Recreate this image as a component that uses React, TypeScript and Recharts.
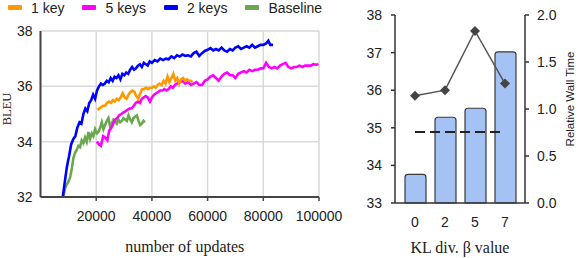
import {
  LineChart,
  Line,
  XAxis,
  YAxis,
  CartesianGrid,
  ComposedChart,
  Bar,
} from 'recharts';

// left panel: BLEU vs number of updates
const baselineSteps = [
  8200, 8800, 9400, 10000, 10600, 11200, 11800, 12400, 13000, 13600, 14200, 14800, 15400, 16000,
  16600, 17200, 17800, 18400, 19000, 19600, 20200, 20800, 21400, 22000, 22600, 23200, 23800, 24400,
  25000, 25600, 26200, 26800, 27400, 28000, 28600, 29200, 29800, 30400, 31000, 31600, 32200, 32800,
  33400, 34000, 34600, 35200, 35800, 36400, 37000, 37500,
];
const baselineBleu = [
  32.0, 32.3, 32.45, 32.55, 32.7, 33.0, 33.4, 33.6, 33.7, 33.85, 33.8, 34.05, 33.95, 34.15,
  34.0, 34.35, 34.1, 34.3, 34.2, 34.45, 34.3, 34.35, 34.5, 34.7, 34.45, 34.6, 34.75, 34.85,
  34.55, 34.65, 34.8, 34.75, 34.65, 34.8, 34.7, 34.75, 34.85, 34.8, 34.75, 34.95, 34.8, 34.7,
  34.85, 34.9, 34.95, 34.75, 34.6, 34.65, 34.75, 34.7,
];

const fiveKeySteps = [
  20200, 21000, 21700, 22500, 23200, 24000, 24700, 25400, 26100, 26800, 27500, 28200, 29000, 29700,
  30500, 31200, 32000, 32700, 33500, 34200, 35000, 35700, 36400, 37100, 37800, 38500, 39300, 40000,
  40800, 41500, 42300, 43000, 43800, 44500, 45300, 46000, 46800, 47500, 48300, 49000, 50000, 51000,
  52000, 53000, 54000, 55000, 56000, 57000, 58000, 59000, 60000, 61000, 62000, 63000, 64000, 65000,
  66000, 67000, 68000, 69000, 70000, 71000, 72000, 73000, 74000, 75000, 76000, 77000, 78000, 79000,
  80000, 81000, 82000, 83000, 84000, 85000, 86000, 87000, 88000, 89000, 90000, 91000, 92000, 93000,
  94000, 95000, 96000, 97000, 98000, 99000, 99800,
];
const fiveKeyBleu = [
  34.0, 33.9, 33.85, 34.2, 34.15, 34.05, 34.4, 34.5, 34.65, 34.8, 34.85, 34.95, 35.0, 35.05,
  35.1, 35.15, 35.2, 35.2, 35.3, 35.4, 35.45, 35.4, 35.55, 35.6, 35.65, 35.6, 35.45, 35.6,
  35.7, 35.75, 35.8, 35.85, 35.85, 35.9, 35.85, 35.9, 36.0, 35.95, 36.05, 36.1, 36.15, 36.2,
  36.1, 36.15, 36.05, 36.1, 36.15, 36.05, 36.05, 36.2, 36.25, 36.35, 36.4, 36.3, 36.2, 36.35,
  36.45, 36.5, 36.4, 36.4, 36.3, 36.45, 36.5, 36.55, 36.5, 36.6, 36.55, 36.6, 36.6, 36.65,
  36.65, 36.85, 36.7, 36.65, 36.7, 36.65, 36.75, 36.8, 36.85, 36.7, 36.65, 36.7, 36.7, 36.75,
  36.7, 36.75, 36.75, 36.75, 36.8, 36.78, 36.8,
];

const oneKeySteps = [
  20400, 21100, 21800, 22500, 23200, 23900, 24600, 25300, 26000, 26700, 27400, 28100, 28800, 29500,
  30200, 30900, 31600, 32300, 33000, 33700, 34400, 35100, 35800, 36500, 37200, 37900, 38600, 39300,
  40000, 40700, 41400, 42100, 42800, 43500, 44200, 44900, 45600, 46300, 47000, 47700, 48400, 49100,
  49800, 50500, 51200, 51900, 52600, 53300, 54000, 54600,
];
const oneKeyBleu = [
  35.15, 35.2, 35.25, 35.3, 35.3, 35.4, 35.45, 35.4, 35.5, 35.45, 35.55, 35.5, 35.6, 35.75,
  35.6, 35.55, 35.7, 35.8, 35.85, 35.8, 35.65, 35.55, 35.75, 35.9, 35.9, 35.95, 35.9, 35.95,
  35.95, 36.0, 35.95, 36.05, 36.1, 36.05, 36.2, 36.1, 36.35, 36.15, 36.3, 36.45, 36.2, 36.3,
  36.1, 36.25, 36.3, 36.2, 36.25, 36.2, 36.2, 36.15,
];

const twoKeySteps = [
  8000, 8800, 9500, 10300, 11000, 11800, 12500, 13200, 14000, 14700, 15400, 16100, 16800, 17500,
  18200, 18900, 19600, 20300, 21000, 21700, 22400, 23100, 23800, 24500, 25200, 25900, 26600, 27300,
  28000, 28700, 29400, 30100, 30800, 31500, 32200, 32900, 33600, 34300, 35000, 35700, 36400, 37100,
  37800, 38500, 39200, 40000, 41000, 42000, 43000, 44000, 45000, 46000, 47000, 48000, 49000, 50000,
  51000, 52000, 53000, 54000, 55000, 56000, 57000, 58000, 59000, 60000, 61000, 62000, 63000, 64000,
  65000, 66000, 67000, 68000, 69000, 70000, 71000, 72000, 73000, 74000, 75000, 76000, 77000, 78000,
  79000, 80000, 81000, 81800, 82500, 83500,
];
const twoKeyBleu = [
  32.0, 32.6, 33.1, 33.5, 33.9, 34.1, 34.2, 34.5, 34.7, 34.65, 35.0, 35.2, 35.1, 35.4,
  35.5, 35.7, 35.55, 35.85, 36.0, 36.1, 36.05, 36.1, 36.2, 36.15, 36.3, 36.2, 36.35, 36.3,
  36.4, 36.25, 36.45, 36.4, 36.5, 36.45, 36.6, 36.7, 36.6, 36.65, 36.75, 36.8, 36.7, 36.85,
  36.8, 36.75, 36.9, 36.85, 36.95, 36.9, 37.0, 36.95, 37.0, 36.98, 37.08, 37.02, 37.12, 37.08,
  37.15, 37.1, 37.12, 37.08, 37.2, 37.25, 37.1, 37.2, 37.28, 37.32, 37.38, 37.3, 37.35, 37.3,
  37.4, 37.3, 37.25, 37.35, 37.3, 37.4, 37.45, 37.35, 37.4, 37.45, 37.4, 37.5, 37.4, 37.45,
  37.5, 37.5, 37.55, 37.65, 37.5, 37.5,
];

const updateTicks = [20000, 40000, 60000, 80000, 100000];
const bleuTicks = [32, 34, 36, 38];

// right panel: KL divergence beta
const betaValues = ['0', '2', '5', '7'];
const betaBleu = [33.76, 35.28, 35.52, 37.02];
const betaBaselineBleu = [34.89, 34.89, 34.89, 34.89];
const betaWallTime = [1.14, 1.2, 1.83, 1.27];
const klBleuTicks = [33, 34, 35, 36, 37, 38];
const wallTimeTicks = [0, 0.5, 1, 1.5, 2];

const SANS = '"Liberation Sans", Arial, sans-serif';
const SERIF = '"Liberation Serif", "Times New Roman", serif';

const toPoints = (steps: number[], vals: number[]) => steps.map((x, i) => ({ x, v: vals[i] }));

// legend order matches the figure, draw order is separate
const SERIES = [
  { name: '1 key', color: '#ff9900', data: toPoints(oneKeySteps, oneKeyBleu) },
  { name: '5 keys', color: '#ff00ff', data: toPoints(fiveKeySteps, fiveKeyBleu) },
  { name: '2 keys', color: '#0000ff', data: toPoints(twoKeySteps, twoKeyBleu) },
  { name: 'Baseline', color: '#6aa84f', data: toPoints(baselineSteps, baselineBleu) },
];
const DRAW_ORDER = ['Baseline', '5 keys', '1 key', '2 keys'];

const klData = betaValues.map((beta, i) => ({
  beta,
  bleu: betaBleu[i],
  baseline: betaBaselineBleu[i],
  time: betaWallTime[i],
}));

const tickStyle = { fontSize: 14, fill: '#222', fontFamily: SANS };

function Diamond(props: any) {
  const { cx, cy, index } = props;
  if (cx == null || cy == null) return null;
  const r = 5;
  return (
    <path
      key={`d-${index}`}
      d={`M${cx},${cy - r} L${cx + r},${cy} L${cx},${cy + r} L${cx - r},${cy} Z`}
      fill="#444"
    />
  );
}

function UpdatesChart() {
  return (
    <div style={{ position: 'absolute', left: 0, top: 0, width: 346, height: 258 }}>
      {/* legend */}
      <div
        style={{
          position: 'absolute',
          left: 8,
          top: 0,
          height: 15,
          display: 'flex',
          alignItems: 'center',
          gap: 18,
          fontFamily: SANS,
          fontSize: 14,
          color: '#222',
          whiteSpace: 'nowrap',
        }}
      >
        {SERIES.map((s) => (
          <div key={s.name} style={{ display: 'flex', alignItems: 'center', gap: 9 }}>
            <span
              style={{ width: 14, height: 5, background: s.color, borderRadius: 1, display: 'inline-block' }}
            />
            <span>{s.name}</span>
          </div>
        ))}
      </div>

      {/* extra right margin so the 100000 label can run past the plot */}
      <LineChart width={346} height={258} margin={{ top: 31, right: 27, bottom: 0, left: 0 }}>
        <CartesianGrid stroke="#d9d9d9" strokeWidth={1.5} />
        <XAxis
          type="number"
          dataKey="x"
          domain={[0, 100000]}
          ticks={updateTicks}
          allowDataOverflow
          height={61}
          tick={tickStyle}
          tickSize={4}
          tickMargin={10}
          tickLine={{ stroke: '#444', strokeWidth: 1.5 }}
          axisLine={{ stroke: '#444', strokeWidth: 2 }}
          label={{
            content: (p: any) => {
              const vb = p.viewBox;
              return (
                <text
                  x={vb.x + vb.width / 2 + 5}
                  y={vb.y + 55}
                  textAnchor="middle"
                  fontFamily={SERIF}
                  fontSize={16}
                  fill="#222"
                >
                  number of updates
                </text>
              );
            },
          }}
        />
        <YAxis
          type="number"
          domain={[32, 38]}
          ticks={bleuTicks}
          width={40.5}
          tick={tickStyle}
          tickLine={false}
          tickSize={0}
          tickMargin={8}
          axisLine={{ stroke: '#444', strokeWidth: 2 }}
          label={{
            content: (p: any) => {
              const vb = p.viewBox;
              const cx = vb.x + 7;
              const cy = vb.y + vb.height / 2 - 5;
              return (
                <text
                  x={cx}
                  y={cy}
                  transform={`rotate(-90, ${cx}, ${cy})`}
                  textAnchor="middle"
                  dominantBaseline="central"
                  fontFamily={SERIF}
                  fontSize={12.5}
                  fill="#222"
                >
                  BLEU
                </text>
              );
            },
          }}
        />
        {DRAW_ORDER.map((name) => {
          const s = SERIES.find((d) => d.name === name)!;
          return (
            <Line
              key={s.name}
              name={s.name}
              data={s.data}
              dataKey="v"
              type="linear"
              stroke={s.color}
              strokeWidth={2.6}
              dot={false}
              isAnimationActive={false}
            />
          );
        })}
      </LineChart>
    </div>
  );
}

function KlChart() {
  return (
    <div style={{ position: 'absolute', left: 330, top: 0, width: 248, height: 258 }}>
      <ComposedChart width={248} height={258} data={klData} margin={{ top: 15, right: 0, bottom: 0, left: 0 }}>
        <XAxis
          dataKey="beta"
          height={55}
          padding={{ left: 5, right: 5 }}
          tick={tickStyle}
          tickSize={0}
          tickMargin={14}
          axisLine={{ stroke: '#333', strokeWidth: 1.5 }}
          label={{
            content: (p: any) => {
              const vb = p.viewBox;
              return (
                <text
                  x={vb.x + vb.width / 2}
                  y={vb.y + 49.5}
                  textAnchor="middle"
                  fontFamily={SERIF}
                  fontSize={16}
                  fill="#222"
                >
                  KL div. β value
                </text>
              );
            },
          }}
        />
        <YAxis
          yAxisId="bleu"
          type="number"
          domain={[33, 38]}
          ticks={klBleuTicks}
          width={65}
          tick={tickStyle}
          tickSize={4}
          tickMargin={9}
          tickLine={{ stroke: '#333', strokeWidth: 1.5 }}
          axisLine={{ stroke: '#333', strokeWidth: 1.5 }}
        />
        <YAxis
          yAxisId="time"
          orientation="right"
          type="number"
          domain={[0, 2]}
          ticks={wallTimeTicks}
          tickFormatter={(v: number) => v.toFixed(1)}
          width={53}
          tick={tickStyle}
          tickSize={4}
          tickMargin={8}
          tickLine={{ stroke: '#333', strokeWidth: 1.5 }}
          axisLine={{ stroke: '#333', strokeWidth: 1.5 }}
          label={{
            content: (p: any) => {
              const vb = p.viewBox;
              const cx = vb.x + vb.width - 8;
              const cy = vb.y + vb.height / 2 - 10;
              return (
                <text
                  x={cx}
                  y={cy}
                  transform={`rotate(-90, ${cx}, ${cy})`}
                  textAnchor="middle"
                  dominantBaseline="central"
                  fontFamily={SANS}
                  fontSize={11.5}
                  fill="#222"
                >
                  Relative Wall Time
                </text>
              );
            },
          }}
        />
        <Bar
          yAxisId="bleu"
          dataKey="bleu"
          barSize={21}
          fill="#a4c2f4"
          stroke="#3a3a3a"
          strokeWidth={1.2}
          radius={[3, 3, 0, 0]}
          isAnimationActive={false}
        />
        <Line
          yAxisId="bleu"
          dataKey="baseline"
          type="linear"
          stroke="#222"
          strokeWidth={2}
          strokeDasharray="10 5"
          dot={false}
          isAnimationActive={false}
        />
        <Line
          yAxisId="time"
          dataKey="time"
          type="linear"
          stroke="#555"
          strokeWidth={1.5}
          dot={Diamond}
          activeDot={false}
          isAnimationActive={false}
        />
      </ComposedChart>
    </div>
  );
}

export default function App() {
  return (
    <div style={{ position: 'absolute', left: 0, top: 0, width: 578, height: 258, background: '#fff' }}>
      <UpdatesChart />
      <KlChart />
    </div>
  );
}
